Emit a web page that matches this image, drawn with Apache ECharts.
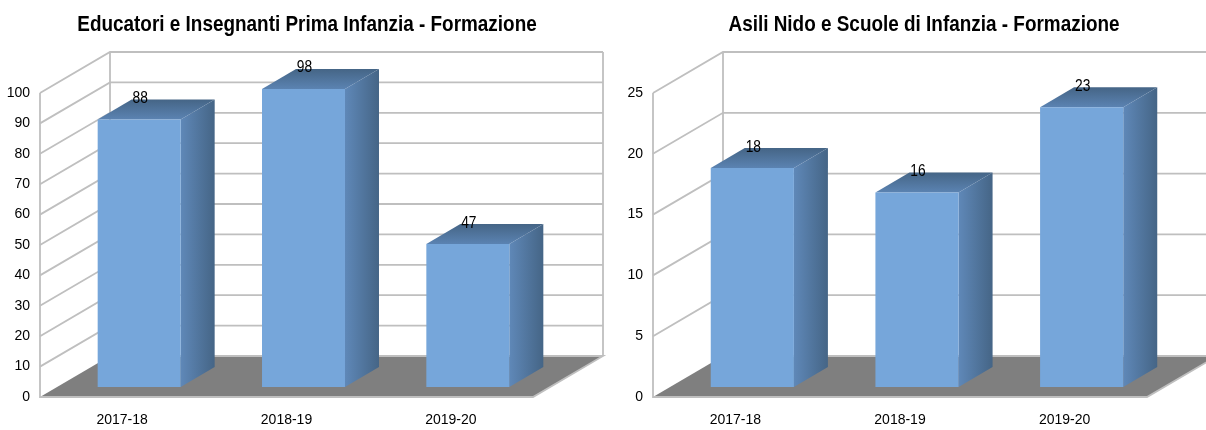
<!DOCTYPE html>
<html>
<head>
<meta charset="utf-8">
<script src="https://cdn.jsdelivr.net/npm/echarts@6/dist/echarts.min.js"></script>
<style>
html,body{margin:0;padding:0;background:#fff}
#main{width:1206px;height:430px}
</style>
</head>
<body>
<div id="main"></div>
<script>
var categories = ['2017-18', '2018-19', '2019-20'];
var titleLeft = 'Educatori e Insegnanti Prima Infanzia - Formazione';
var titleRight = 'Asili Nido e Scuole di Infanzia - Formazione';
var valuesLeft = [88, 98, 47];
var valuesRight = [18, 16, 23];
var ticksLeft = [0, 10, 20, 30, 40, 50, 60, 70, 80, 90, 100];
var ticksRight = [0, 5, 10, 15, 20, 25];

var font = '"Liberation Sans",Arial,sans-serif';
// wall depth, bar offset from the front edge, bar depth
var wallX = 70, wallY = 41, offX = 17, offY = 10, barX = 34, barY = 20;
var gridColor = '#bfbfbf';

function wallSeries(idx, ticks) {
    return {
        type: 'custom', xAxisIndex: idx, yAxisIndex: idx, silent: true, clip: false, z: 1,
        data: ticks.map(function (v) { return [0, v]; }),
        renderItem: function (params, api) {
            var r = params.coordSys;
            var y = api.coord([0, api.value(1)])[1];
            var lineStyle = {stroke: gridColor, lineWidth: 1.8, fill: null};
            if (api.value(1) === 0) {
                return {type: 'group', children: [
                    {type: 'polygon', shape: {points: [[r.x, y], [r.x + r.width, y], [r.x + r.width + wallX, y - wallY], [r.x + wallX, y - wallY]]}, style: {fill: '#7f7f7f'}},
                    {type: 'polyline', shape: {points: [[r.x + wallX, y - wallY], [r.x + wallX, r.y - wallY]]}, style: lineStyle},
                    {type: 'polyline', shape: {points: [[r.x + r.width + wallX, y - wallY], [r.x + r.width + wallX, r.y - wallY]]}, style: lineStyle},
                    {type: 'polyline', shape: {points: [[r.x, r.y], [r.x, y], [r.x + r.width, y], [r.x + r.width + wallX, y - wallY], [r.x + wallX, y - wallY]]}, style: lineStyle}
                ]};
            }
            return {type: 'polyline', shape: {points: [[r.x, y], [r.x + wallX, y - wallY], [r.x + r.width + wallX, y - wallY]]}, style: lineStyle};
        }
    };
}

function barSeries(idx, values) {
    return {
        type: 'custom', xAxisIndex: idx, yAxisIndex: idx, silent: true, clip: false, z: 3,
        data: values.map(function (v, i) { return [i, v]; }),
        renderItem: function (params, api) {
            var top = api.coord([api.value(0), api.value(1)]);
            var base = api.coord([api.value(0), 0]);
            var w = api.size([1, 0])[0] * 0.505;
            var l = top[0] + offX - w / 2, r = l + w;
            var t = top[1] - offY, b = base[1] - offY;
            return {type: 'group', children: [
                {type: 'polygon', shape: {points: [[r, t], [r + barX, t - barY], [r + barX, b - barY], [r, b]]},
                    style: {fill: new echarts.graphic.LinearGradient(0, 0, 1, 0, [{offset: 0, color: '#5f88b8'}, {offset: 1, color: '#456586'}])}},
                {type: 'polygon', shape: {points: [[l, t], [r, t], [r + barX, t - barY], [l + barX, t - barY]]},
                    style: {fill: new echarts.graphic.LinearGradient(0, 1, 0, 0, [{offset: 0, color: '#5b83b2'}, {offset: 1, color: '#456586'}])}},
                {type: 'rect', shape: {x: l, y: t, width: w, height: b - t}, style: {fill: '#76a6da'}},
                {type: 'text', x: top[0] + offX + 1, y: t - 21, scaleX: 0.86, style: {text: String(api.value(1)), fill: '#000', font: '16px ' + font, align: 'center', verticalAlign: 'middle'}}
            ]};
        }
    };
}

var myChart = echarts.init(document.getElementById('main'), null, {renderer: 'canvas'});
var option = {
    animation: false,
    backgroundColor: '#fff',
    graphic: [
        {type: 'text', x: 307, y: 25, scaleX: 0.88, style: {text: titleLeft, fill: '#000', font: 'bold 21.5px ' + font, align: 'center', verticalAlign: 'middle'}},
        {type: 'text', x: 924, y: 25, scaleX: 0.88, style: {text: titleRight, fill: '#000', font: 'bold 21.5px ' + font, align: 'center', verticalAlign: 'middle'}}
    ],
    grid: [
        {left: 40, top: 93, width: 493, height: 304},
        {left: 653, top: 93, width: 494, height: 304}
    ],
    xAxis: [0, 1].map(function (i) {
        return {type: 'category', gridIndex: i, data: categories, axisLine: {show: false}, axisTick: {show: false},
            axisLabel: {fontFamily: font, fontSize: 14, color: '#000', margin: 16}};
    }),
    yAxis: [
        {type: 'value', gridIndex: 0, min: 0, max: 100, interval: 10, axisLine: {show: false}, axisTick: {show: false}, splitLine: {show: false},
            axisLabel: {fontFamily: font, fontSize: 14, color: '#000', margin: 10}},
        {type: 'value', gridIndex: 1, min: 0, max: 25, interval: 5, axisLine: {show: false}, axisTick: {show: false}, splitLine: {show: false},
            axisLabel: {fontFamily: font, fontSize: 14, color: '#000', margin: 10}}
    ],
    series: [
        wallSeries(0, ticksLeft),
        wallSeries(1, ticksRight),
        barSeries(0, valuesLeft),
        barSeries(1, valuesRight)
    ]
};
myChart.setOption(option);
</script>
</body>
</html>
